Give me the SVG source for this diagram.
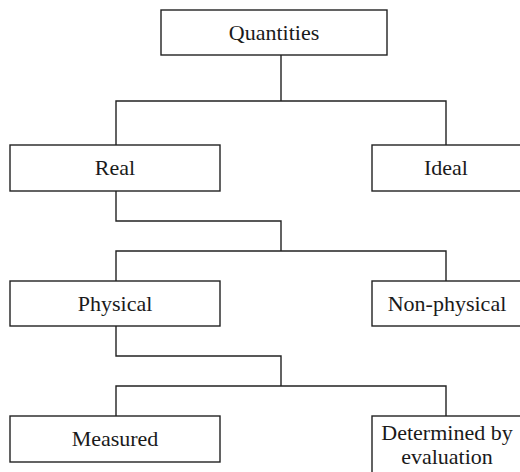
<svg xmlns="http://www.w3.org/2000/svg" width="520" height="472" viewBox="0 0 520 472">
  <style>
    .box { fill: #ffffff; stroke: #222222; stroke-width: 1.4; }
    .wire { fill: none; stroke: #222222; stroke-width: 1.4; }
    .label { font-family: "Liberation Serif", "Times New Roman", "DejaVu Serif", serif; font-size: 22px; fill: #1a1a1a; text-anchor: middle; }
  </style>
  <rect width="520" height="472" fill="#ffffff"/>

  <!-- tree connectors -->
  <g id="connectors">
    <path class="wire" d="M281 55 V101 M116 145 V101 H446 V145"/>
    <path class="wire" d="M116 191 V221 H281 V251 M116 281 V251 H446 V281"/>
    <path class="wire" d="M116 326 V356 H281 V386 M116 416 V386 H446 V416"/>
  </g>

  <g id="quantities">
    <rect class="box" x="161" y="10" width="226" height="45"/>
    <text class="label" x="274" y="40">Quantities</text>
  </g>
  <g id="real">
    <rect class="box" x="10" y="145" width="210" height="46"/>
    <text class="label" x="115" y="175">Real</text>
  </g>
  <g id="ideal">
    <rect class="box" x="372" y="145" width="160" height="46"/>
    <text class="label" x="446" y="175">Ideal</text>
  </g>
  <g id="physical">
    <rect class="box" x="10" y="281" width="210" height="45"/>
    <text class="label" x="115" y="311">Physical</text>
  </g>
  <g id="non-physical">
    <rect class="box" x="372" y="281" width="160" height="45"/>
    <text class="label" x="447" y="311">Non-physical</text>
  </g>
  <g id="measured">
    <rect class="box" x="10" y="416" width="210" height="46"/>
    <text class="label" x="115" y="446">Measured</text>
  </g>
  <g id="determined">
    <rect class="box" x="372" y="416" width="160" height="70"/>
    <text class="label" x="447" y="440">Determined by</text>
    <text class="label" x="447" y="464">evaluation</text>
  </g>
</svg>
